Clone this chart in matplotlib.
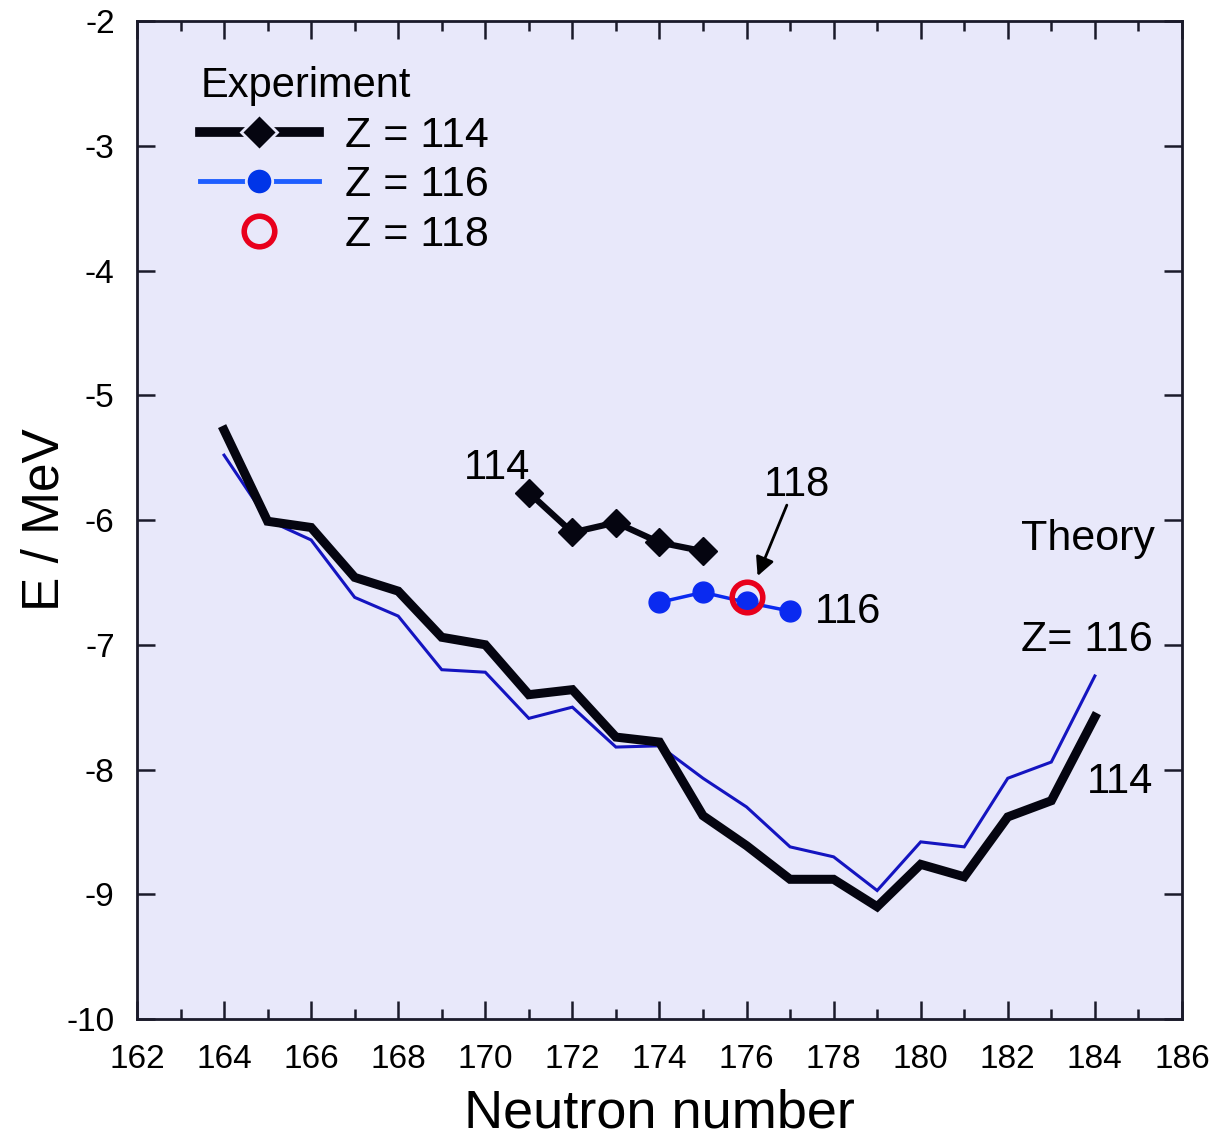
import matplotlib
matplotlib.use("Agg")
import matplotlib.pyplot as plt
from matplotlib.lines import Line2D
from matplotlib.ticker import MultipleLocator

plt.rcParams['font.family'] = ['Liberation Sans', 'DejaVu Sans']
plt.rcParams['axes.unicode_minus'] = False

# Theoretical energies vs neutron number
N_theory = list(range(164, 185))
E_th_114 = [-5.28, -6.01, -6.06, -6.46, -6.57, -6.94, -7.00, -7.40, -7.36, -7.74, -7.78,
            -8.37, -8.61, -8.88, -8.88, -9.10, -8.76, -8.86, -8.38, -8.25, -7.58]
E_th_116 = [-5.48, -6.00, -6.16, -6.62, -6.77, -7.20, -7.22, -7.59, -7.50, -7.82, -7.81,
            -8.07, -8.30, -8.62, -8.70, -8.97, -8.58, -8.62, -8.07, -7.94, -7.25]

# Measured values
N_exp_114 = [171, 172, 173, 174, 175]
E_exp_114 = [-5.78, -6.10, -6.02, -6.18, -6.25]
N_exp_116 = [174, 175, 176, 177]
E_exp_116 = [-6.66, -6.58, -6.66, -6.73]
N_exp_118 = [176]
E_exp_118 = [-6.62]

bg = '#e8e8fa'
black = '#050510'
blue_th = '#1414c0'
blue_exp = '#0a2af0'
red = '#e8001c'

fig = plt.figure(figsize=(12.1, 11.41), dpi=100)
ax = fig.add_axes([0.1132, 0.1069, 0.8636, 0.8747])
ax.set_facecolor(bg)

ax.plot(N_theory, E_th_116, color=blue_th, lw=2.2, solid_joinstyle='miter')
ax.plot(N_theory, E_th_114, color=black, lw=6.5, solid_joinstyle='miter')

ax.plot(N_exp_114, E_exp_114, color=black, lw=4.5, marker='D', ms=14, mfc=black, mec=black)
ax.plot(N_exp_116, E_exp_116, color=blue_exp, lw=2.5, marker='o', ms=15, mfc=blue_exp, mec=blue_exp)
ax.plot(N_exp_118, E_exp_118, ls='none', marker='o', ms=22, mfc='none', mec=red, mew=4)

# labels inside the plot
ax.text(170.28, -5.58, '114', fontsize=30, ha='center', va='center')
ax.text(177.15, -5.72, '118', fontsize=30, ha='center', va='center')
ax.annotate('', xy=(176.23, -6.47), xytext=(176.95, -5.86),
            arrowprops=dict(arrowstyle='-|>', color='black', lw=2, mutation_scale=28))
ax.text(177.56, -6.74, '116', fontsize=30, ha='left', va='center')
ax.text(182.31, -6.15, 'Theory', fontsize=31, ha='left', va='center')
ax.text(182.31, -6.96, 'Z= 116', fontsize=31, ha='left', va='center')
ax.text(183.82, -8.10, '114', fontsize=30, ha='left', va='center')

handles = [
    Line2D([], [], color=black, lw=7, marker='D', ms=18, mfc=black, mec=bg, mew=2),
    Line2D([], [], color='#1e5eff', lw=3.5, marker='o', ms=19, mfc='#0035e8', mec=bg, mew=2),
    Line2D([], [], ls='none', marker='o', ms=22, mfc='none', mec=red, mew=4),
]
leg = ax.legend(handles, ['Z = 114', 'Z = 116', 'Z = 118'], title='Experiment',
                loc='upper left', bbox_to_anchor=(0.044, 0.972), frameon=False,
                fontsize=31, title_fontsize=30, handlelength=2.75, handletextpad=0.62,
                labelspacing=0.22, alignment='left', borderaxespad=0)

ax.set_xlim(162, 186)
ax.set_ylim(-10, -2)
ax.xaxis.set_major_locator(MultipleLocator(2))
ax.xaxis.set_minor_locator(MultipleLocator(1))
ax.yaxis.set_major_locator(MultipleLocator(1))

ax.tick_params(axis='both', which='major', direction='in', length=13, width=1.8,
               top=True, right=True, color='#1a1a2a')
ax.tick_params(axis='x', which='minor', direction='in', length=7, width=1.8,
               top=True, color='#1a1a2a')
ax.tick_params(axis='x', which='major', labelsize=24, pad=18)
ax.tick_params(axis='y', which='major', labelsize=24, pad=16)

for s in ax.spines.values():
    s.set_linewidth(2)
    s.set_color('#1a1a2a')

ax.set_xlabel('Neutron number', fontsize=39, labelpad=10)
ax.set_ylabel('E / MeV', fontsize=37, labelpad=-2)

fig.savefig('out.png', dpi=100, facecolor='white')
